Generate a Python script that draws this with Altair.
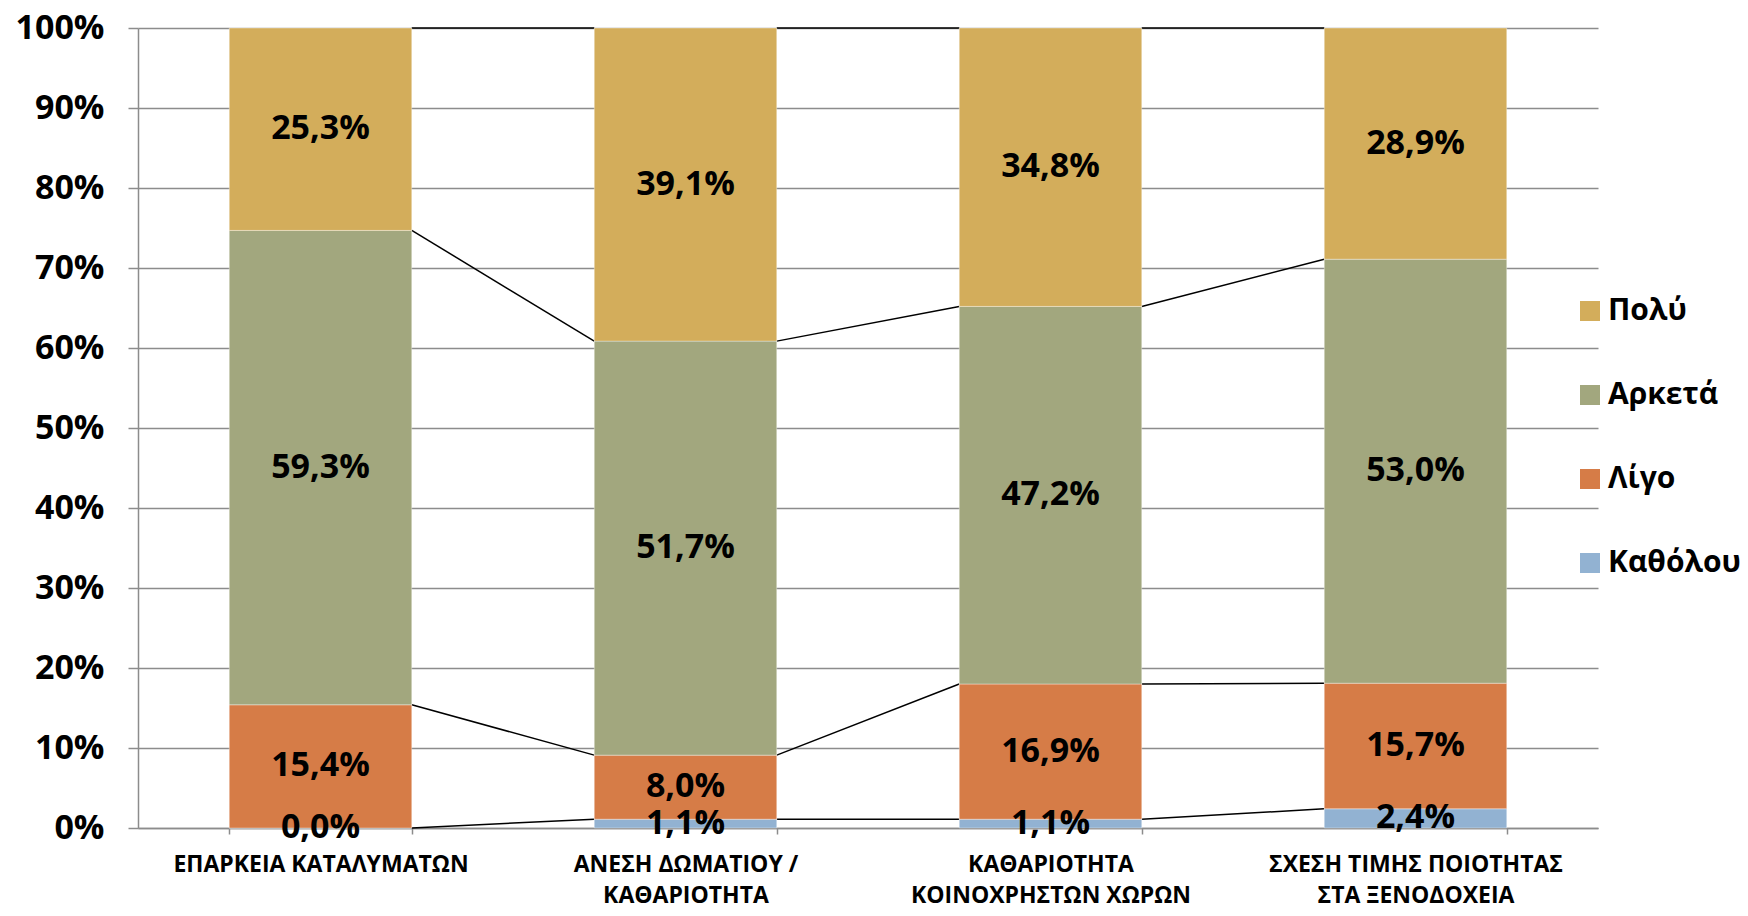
import altair as alt
import pandas as pd

# ---- data ----
categories = [
    "ΕΠΑΡΚΕΙΑ ΚΑΤΑΛΥΜΑΤΩΝ",
    "ΑΝΕΣΗ ΔΩΜΑΤΙΟΥ /|ΚΑΘΑΡΙΟΤΗΤΑ",
    "ΚΑΘΑΡΙΟΤΗΤΑ|ΚΟΙΝΟΧΡΗΣΤΩΝ ΧΩΡΩΝ",
    "ΣΧΕΣΗ ΤΙΜΗΣ ΠΟΙΟΤΗΤΑΣ|ΣΤΑ ΞΕΝΟΔΟΧΕΙΑ",
]
series_bottom_to_top = ["Καθόλου", "Λίγο", "Αρκετά", "Πολύ"]
legend_order = ["Πολύ", "Αρκετά", "Λίγο", "Καθόλου"]
katholou = [0.0, 1.1, 1.1, 2.4]
ligo = [15.4, 8.0, 16.9, 15.7]
arketa = [59.3, 51.7, 47.2, 53.0]
poly = [25.3, 39.1, 34.8, 28.9]
colors = ["#D3AD5B", "#A2A77E", "#D67C47", "#92B2D2"]  # Πολύ, Αρκετά, Λίγο, Καθόλου

values = {"Καθόλου": katholou, "Λίγο": ligo, "Αρκετά": arketa, "Πολύ": poly}

# ---- build tables (100% stacked) ----
rows = []
tops = {s: [] for s in series_bottom_to_top}
for i, cat in enumerate(categories):
    total = sum(values[s][i] for s in series_bottom_to_top)
    cum = 0.0
    for k, s in enumerate(series_bottom_to_top):
        v = values[s][i]
        y0 = cum / total
        cum += v
        y1 = cum / total
        tops[s].append(y1)
        rows.append({
            "cat": cat, "series": s, "order": k, "value": v,
            "y0": y0, "y1": y1, "mid": (y0 + y1) / 2,
            "label": f"{v:.1f}%".replace(".", ","),
        })
df = pd.DataFrame(rows)

line_rows = []
seg = 0
for s in series_bottom_to_top:
    for i in range(len(categories) - 1):
        line_rows.append({"seg": seg, "xq": i + 0.75, "yq": tops[s][i]})
        line_rows.append({"seg": seg, "xq": i + 1.25, "yq": tops[s][i + 1]})
        seg += 1
lines = pd.DataFrame(line_rows)

W, H = 1460, 800
GRAY = "#8C8C8C"

x_enc = alt.X(
    "cat:N", sort=categories,
    scale=alt.Scale(paddingInner=0.5, paddingOuter=0.25),
    axis=alt.Axis(
        title=None, labelAngle=0, tickBand="extent",
        labelExpr="split(datum.label, '|')",
        labelFont="Open Sans", labelFontWeight="bold", labelFontSize=23,
        labelColor="#000000", labelLineHeight=31, labelPadding=19,
        labelBaseline="top", labelLimit=0,
        tickSize=6, tickColor=GRAY, domainColor=GRAY, domainWidth=1.5,
        tickWidth=1.5, grid=False, labelOverlap=False,
    ),
)

y_scale = alt.Scale(domain=[0, 1], nice=False, zero=True)

bars = alt.Chart(df).mark_bar(stroke="#FFFFFF", strokeOpacity=0.35, strokeWidth=1).encode(
    x=x_enc,
    y=alt.Y(
        "y1:Q", scale=y_scale,
        axis=alt.Axis(
            title=None, format=".0%", values=[i / 10 for i in range(11)],
            labelFont="Open Sans", labelFontWeight="bold", labelFontSize=34,
            labelColor="#000000", labelPadding=24, labelFlush=False,
            labelOverlap=False, tickSize=10, tickColor=GRAY, tickWidth=1.5,
            domainColor=GRAY, domainWidth=1.5,
            grid=True, gridColor=GRAY, gridWidth=1.5,
        ),
    ),
    y2="y0:Q",
    color=alt.Color(
        "series:N",
        scale=alt.Scale(domain=legend_order, range=colors),
        legend=alt.Legend(
            orient="none", legendX=1437, legendY=268, title=None,
            symbolType="square", symbolSize=400, symbolStrokeWidth=0,
            labelFont="Open Sans", labelFontWeight="bold", labelFontSize=30,
            labelColor="#000000", labelOffset=3, rowPadding=54, padding=0,
        ),
    ),
    order=alt.Order("order:Q"),
)

texts = alt.Chart(df).mark_text(
    font="Open Sans", fontWeight="bold", fontSize=34, color="#000000",
    baseline="middle", align="center",
).encode(
    x=alt.X("cat:N", sort=categories),
    y=alt.Y("mid:Q", scale=y_scale),
    text="label:N",
)

series_lines = alt.Chart(lines).mark_line(color="#000000", strokeWidth=1.5).encode(
    x=alt.X("xq:Q", scale=alt.Scale(domain=[0, 4], nice=False, zero=False), axis=None),
    y=alt.Y("yq:Q", scale=y_scale, title=None),
    detail="seg:N",
)

bars_and_labels = alt.layer(bars, texts)
chart = alt.layer(series_lines, bars_and_labels).resolve_scale(x="independent")

chart = chart.properties(
    width=W, height=H,
    autosize=alt.AutoSizeParams(type="none"),
    padding={"left": 130, "top": 20, "right": 142, "bottom": 80},
    background="#FFFFFF",
).configure_view(stroke=None)

chart.save("out.html", embed_options={"renderer": "svg", "actions": False})
